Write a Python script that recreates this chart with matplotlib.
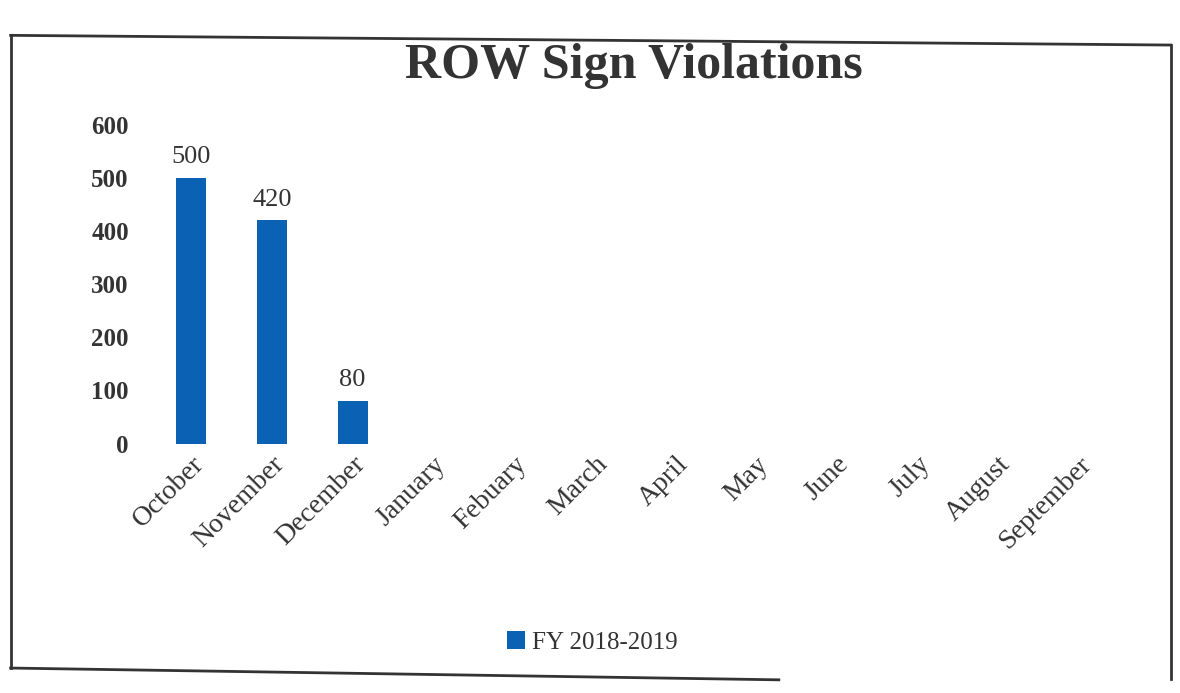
import matplotlib
matplotlib.use("Agg")
import matplotlib.pyplot as plt
from matplotlib.lines import Line2D

months = ['October', 'November', 'December', 'January', 'Febuary', 'March',
          'April', 'May', 'June', 'July', 'August', 'September']
violations = [500, 420, 80, 0, 0, 0, 0, 0, 0, 0, 0, 0]
labels_shown = [500, 420, 80]
series_name = 'FY 2018-2019'

plt.rcParams['font.family'] = ['Liberation Serif', 'DejaVu Serif']

fig = plt.figure(figsize=(11.8, 6.93), dpi=100)
ax = fig.add_axes([0.128, 0.36, 0.82, 0.46])

x = list(range(len(months)))
bars = ax.bar(x, violations, width=0.37, color='#0b62b5', label=series_name)
for i, v in enumerate(labels_shown):
    ax.text(i, v + 18, str(v), ha='center', va='bottom', fontsize=19, color='#333333')

ax.set_ylim(0, 600)
ax.set_xlim(-0.5, len(months) - 0.5)
ax.set_yticks(range(0, 601, 100))
ax.tick_params(axis='y', length=0, labelsize=18, labelcolor='#333333', pad=16)
ax.tick_params(axis='x', length=0, labelsize=20, labelcolor='#333333', pad=6)
ax.set_xticks(x)
ax.set_xticklabels(months, rotation=45, ha='right', rotation_mode='anchor')
for t in ax.get_yticklabels():
    t.set_fontweight('bold')
for s in ax.spines.values():
    s.set_visible(False)

fig.text(0.537, 0.905, 'ROW Sign Violations', ha='center', va='center',
         fontsize=36, fontweight='bold', color='#333333')

fig.legend(handles=[bars], loc='center', bbox_to_anchor=(0.502, 0.073),
           frameon=False, fontsize=18, handlelength=0.7, handleheight=0.7,
           handletextpad=0.3, labelcolor='#333333')

# scanned page frame
frame = [((0.009, 0.949), (0.992, 0.935)),
         ((0.009, 0.949), (0.009, 0.036)),
         ((0.009, 0.036), (0.66, 0.019)),
         ((0.992, 0.935), (0.992, 0.02))]
for (x0, y0), (x1, y1) in frame:
    fig.add_artist(Line2D([x0, x1], [y0, y1], transform=fig.transFigure,
                          color='#333333', lw=2))

fig.savefig('out.png', dpi=100)
